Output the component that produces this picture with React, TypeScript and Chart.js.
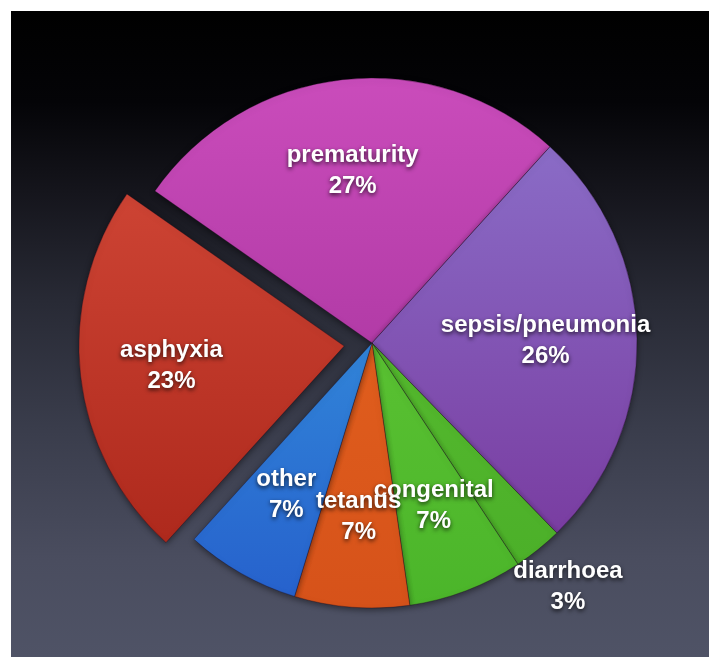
import React, { useEffect, useRef } from "react";
import { Chart, registerables } from "chart.js";

Chart.register(...registerables);

const categories = ["prematurity", "sepsis/pneumonia", "diarrhoea", "congenital", "tetanus", "other", "asphyxia"];
const values = [27, 26, 3, 7, 7, 7, 23];
const topColors = ["#ca4cbb", "#8d74cd", "#5fc434", "#68cd3a", "#ea6a20", "#3ca8e4", "#d74c3b"];
const bottomColors = ["#9a2a92", "#76349a", "#4aae28", "#4bb52a", "#d6521a", "#2660cc", "#a82418"];
const offsets = [0, 0, 0, 0, 0, 0, 112];

const labelPlugin = {
  id: "sliceLabels",
  afterDatasetsDraw(chart: any) {
    const ctx = chart.ctx;
    const meta = chart.getDatasetMeta(0);
    ctx.save();
    ctx.font = "bold 24px 'Liberation Sans', Arial, Helvetica, sans-serif";
    ctx.textAlign = "center";
    ctx.textBaseline = "middle";
    ctx.fillStyle = "#ffffff";
    ctx.shadowColor = "rgba(0,0,0,0.75)";
    ctx.shadowBlur = 4;
    ctx.shadowOffsetX = 0;
    ctx.shadowOffsetY = 2;
    meta.data.forEach((arc: any, i: number) => {
      const p = arc.getProps(["x", "y", "startAngle", "endAngle", "outerRadius", "circumference"], true);
      const mid = (p.startAngle + p.endAngle) / 2;
      const off = (arc.options.offset || 0) / 4;
      const fix = 1 - Math.sin(Math.min(Math.PI, p.circumference || 0));
      const shift = off + off * fix;
      const r = values[i] < 5 ? p.outerRadius * 1.18 : p.outerRadius * 0.655;
      const cx = p.x + Math.cos(mid) * (r + shift);
      const cy = p.y + Math.sin(mid) * (r + shift);
      ctx.fillText(categories[i], cx, cy - 15);
      ctx.fillText(values[i] + "%", cx, cy + 16);
    });
    ctx.restore();
  },
};

const shadowPlugin = {
  id: "pieShadow",
  beforeDatasetsDraw(chart: any) {
    const ctx = chart.ctx;
    ctx.save();
    ctx.shadowColor = "rgba(0,0,0,0.45)";
    ctx.shadowBlur = 6;
    ctx.shadowOffsetY = 2;
  },
  afterDatasetsDraw(chart: any) {
    chart.ctx.restore();
  },
};

export default function App() {
  const canvasRef = useRef<HTMLCanvasElement | null>(null);

  useEffect(() => {
    if (!canvasRef.current) return;
    const chart = new Chart(canvasRef.current, {
      type: "pie",
      data: {
        labels: categories,
        datasets: [
          {
            data: values,
            backgroundColor: (c: any) => {
              const i = c.dataIndex;
              const area = c.chart.chartArea;
              if (!area || i === undefined) return topColors[i ?? 0];
              const cy = (area.top + area.bottom) / 2;
              const g = c.chart.ctx.createLinearGradient(0, cy - 265, 0, cy + 265);
              g.addColorStop(0, topColors[i]);
              g.addColorStop(1, bottomColors[i]);
              return g;
            },
            borderColor: "rgba(30,10,30,0.35)",
            borderWidth: 1,
            offset: offsets,
          },
        ],
      },
      options: {
        animation: false,
        responsive: true,
        maintainAspectRatio: false,
        events: [],
        radius: 265,
        rotation: -55,
        layout: { padding: { left: 24, right: 0, top: 18, bottom: 0 } },
        plugins: {
          legend: { display: false },
          tooltip: { enabled: false },
          title: { display: false },
        },
      },
      plugins: [shadowPlugin, labelPlugin],
    });
    return () => chart.destroy();
  }, []);

  return (
    <div
      style={{
        position: "fixed",
        left: 11,
        top: 11,
        width: 698,
        height: 646,
        background:
          "linear-gradient(to bottom, #000000 0%, #040407 14%, #15151c 28%, #282a35 45%, #3a3d4c 65%, #4a4d5f 85%, #4f5366 100%)",
      }}
    >
      <canvas ref={canvasRef} />
    </div>
  );
}
